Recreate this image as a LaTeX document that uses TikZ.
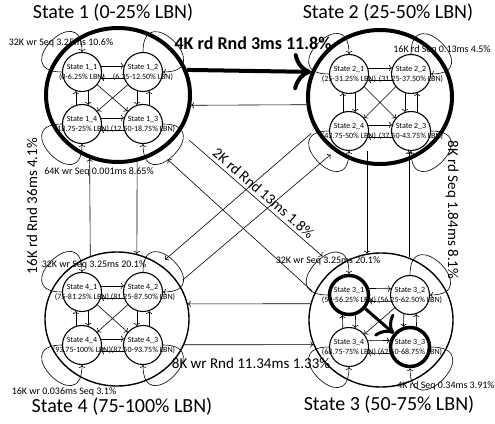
\documentclass[tikz,border=0pt]{standalone}
\usepackage{fontspec}
\setmainfont{Carlito}
\usetikzlibrary{arrows,arrows.meta,shapes.geometric}
\newcommand{\sublabel}[2]{\makebox[0pt]{#1}\\\makebox[0pt]{#2}}
\begin{document}
\begin{tikzpicture}[x=1pt,y=1pt,
				big/.style={draw,ellipse,minimum width=144pt,minimum height=134pt,inner sep=0pt},
				sub/.style={draw,circle,minimum size=39pt,inner sep=0pt,line width=1.1pt,
					align=center,font=\fontsize{8}{10}\selectfont},
				ttl/.style={font=\fontsize{20}{24}\selectfont},
				lbl/.style={font=\fontsize{15}{18}\selectfont},
				note/.style={font=\fontsize{10}{12}\selectfont,inner sep=0pt},
				link/.style={->,line width=0.6pt},
				heavy/.style={-{To[scale=1.7]}}]
			\useasboundingbox (0,0) rectangle (495,423);
			% the four states
			\node [big,line width=4pt] (st1) at (118,328) {};
			\node [big,line width=4pt] (st2) at (380,326) {};
			\node [big,line width=1.4pt] (st3) at (381,103) {};
			\node [big,line width=1.4pt] (st4) at (117,104) {};
			\node [ttl] (t1) at (113,410) {State 1 (0-25\% LBN)};
			\node [ttl] (t2) at (388,410) {State 2 (25-50\% LBN)};
			\node [ttl] (t3) at (389,18) {State 3 (50-75\% LBN)};
			\node [ttl] (t4) at (122,16) {State 4 (75-100\% LBN)};
			% sub states
			\node [sub] (s11) at (82,351) {\sublabel{State 1\_1}{(0-6.25\% LBN)}};
			\node [sub] (s12) at (143,351) {\sublabel{State 1\_2}{(6.25-12.50\% LBN)}};
			\node [sub] (s13) at (143,299) {\sublabel{State 1\_3}{(12.50-18.75\% LBN)}};
			\node [sub] (s14) at (82,299) {\sublabel{State 1\_4}{(18.75-25\% LBN)}};
			\node [sub] (s21) at (349,349) {\sublabel{State 2\_1}{(25-31.25\% LBN)}};
			\node [sub] (s22) at (411,349) {\sublabel{State 2\_2}{(31.25-37.50\% LBN)}};
			\node [sub] (s23) at (411,292) {\sublabel{State 2\_3}{(37.50-43.75\% LBN)}};
			\node [sub] (s24) at (349,292) {\sublabel{State 2\_4}{(43.75-50\% LBN)}};
			\node [sub,line width=3.5pt] (s31) at (349,128) {\sublabel{State 3\_1}{(50-56.25\% LBN)}};
			\node [sub] (s32) at (410,128) {\sublabel{State 3\_2}{(56.25-62.50\% LBN)}};
			\node [sub,line width=3.5pt] (s33) at (410,76) {\sublabel{State 3\_3}{(62.50-68.75\% LBN)}};
			\node [sub] (s34) at (349,76) {\sublabel{State 3\_4}{(68.75-75\% LBN)}};
			\node [sub] (s41) at (82,131) {\sublabel{State 4\_1}{(75-81.25\% LBN)}};
			\node [sub] (s42) at (143,131) {\sublabel{State 4\_2}{(81.25-87.50\% LBN)}};
			\node [sub] (s43) at (143,78) {\sublabel{State 4\_3}{(87.50-93.75\% LBN)}};
			\node [sub] (s44) at (82,78) {\sublabel{State 4\_4}{(93.75-100\% LBN)}};
			\foreach \k in {1,2,3,4} {
				\draw [link] (s\k1.18) -- (s\k2.162);
				\draw [link] (s\k2.198) -- (s\k1.342);
				\draw [link] (s\k4.18) -- (s\k3.162);
				\draw [link] (s\k3.198) -- (s\k4.342);
				\draw [link] (s\k4.108) -- (s\k1.252);
				\draw [link] (s\k1.288) -- (s\k4.72);
				\draw [link] (s\k2.252) -- (s\k3.108);
				\draw [link] (s\k3.72) -- (s\k2.288);
				\draw [link] (s\k2.220) -- (s\k4.40);
				\draw [link] (s\k1.west) to[out=180,in=90,looseness=5] (s\k1.north);
				\draw [link] (s\k2.north) to[out=90,in=0,looseness=5] (s\k2.east);
				\draw [link] (s\k3.east) to[out=0,in=270,looseness=5] (s\k3.south);
				\draw [link] (s\k4.west) to[out=180,in=270,looseness=5] (s\k4.south);
			}
			\foreach \k in {1,2,4}
				\draw [link] (s\k1.-40) -- (s\k3.140);
			\draw [heavy,line width=3pt] (s31.-40) -- (s33.140);
			% loop labels
			\node [note] (n11) at (61,380) {32K wr Seq 3.25ms 10.6\%};
			\node [note] (n22) at (442,373) {16K rd Seq 0.13ms 4.5\%};
			\node [note] (n14) at (99,251) {64K wr Seq 0.001ms 8.65\%};
			\node [note] (n41) at (94,158) {32K wr Seq 3.25ms 20.1\%};
			\node [note] (n31) at (328,162) {32K wr Seq 3.25ms 20.1\%};
			\node [note] (n44) at (64,31) {16K wr 0.036ms Seq 3.1\%};
			\node [note] (n33) at (446,37) {4K rd Seq 0.34ms 3.91\%};
			% moves between states
			\draw [heavy,line width=4pt] (st1.20) -- (st2.160);
			\node [font=\bfseries\fontsize{18}{22}\selectfont] (l12) at (253,380) {4K rd Rnd 3ms 11.8\%};
			\draw [link] (st2.186) -- (st1.352);
			\draw [link] (st4.113) -- (st1.246);
			\draw [link] (st1.286) -- (st4.73);
			\node [lbl,rotate=90] (l41) at (32,217) {16K rd Rnd 36ms 4.1\%};
			\draw [link] (st3.102 |- s24.south) -- (st3.102);
			\draw [link] (st3.66) -- (st3.66 |- s23.south);
			\node [lbl,rotate=-90] (l32) at (452,213) {8K rd Seq 1.84ms 8.1\%};
			\draw [link] (st3.167) -- (st4.12);
			\draw [link] (st4.339) -- (st3.200);
			\node [lbl] (l43) at (251,60) {8K wr Rnd 11.34ms 1.33\%};
			\draw [link,shorten <=12pt,shorten >=17pt] (st1.-31) -- (st3.131)
				node [lbl,midway,above,sloped] (l13) {2K rd Rnd 13ms 1.8\%};
			\draw [link,shorten <=2.5pt,shorten >=11pt] (st3.158) -- (st1.-54);
			\draw [link,shorten <=5pt,shorten >=7pt] (st2.207) -- (st4.52);
			\draw [link,shorten <=5pt,shorten >=5pt] (st4.30) -- (st2.230);
		\end{tikzpicture}
\end{document}
